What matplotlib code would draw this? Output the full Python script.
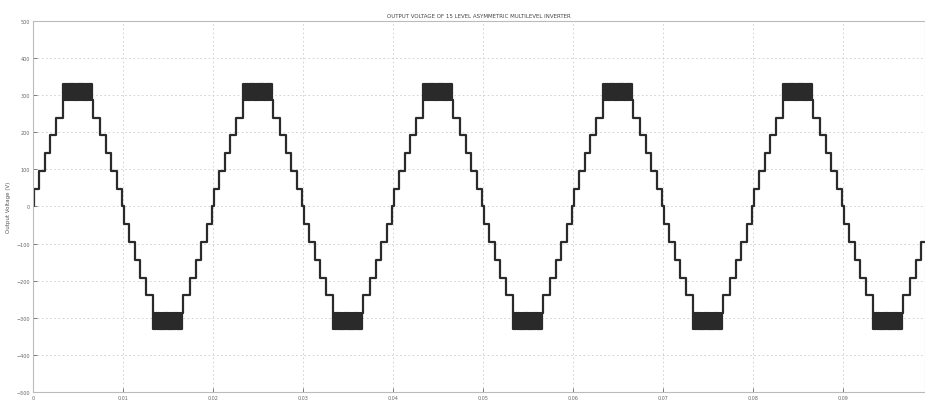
import numpy as np
import matplotlib
matplotlib.use('Agg')
import matplotlib.pyplot as plt

# staircase levels (V) and the times (s) they switch on in the first quarter
step_levels = [0, 48, 96, 144, 192, 240, 288]
step_times = [0.0, 0.0001, 0.0007, 0.0013, 0.0019, 0.0026, 0.0033]
top_level = 330
# pwm chatter between the two highest levels around the peak
pwm_times = [0.0033, 0.00345, 0.0035, 0.0037, 0.00375, 0.0039, 0.00395, 0.0041, 0.00415,
             0.0043, 0.00435, 0.0045, 0.00455, 0.0047, 0.00475, 0.0049, 0.00495,
             0.0051, 0.00515, 0.0053, 0.00535, 0.0055, 0.00555, 0.0057, 0.00575,
             0.0059, 0.00595, 0.0061, 0.00615, 0.0063, 0.00635, 0.0065, 0.0067]
period = 0.02
n_cycles = 5

x_ticks = [0, 0.01, 0.02, 0.03, 0.04, 0.05, 0.06, 0.07, 0.08, 0.09]
x_labels = ['0', '0.01', '0.02', '0.03', '0.04', '0.05', '0.06', '0.07', '0.08', '0.09']
y_ticks = [-500, -400, -300, -200, -100, 0, 100, 200, 300, 400, 500]

title = 'OUTPUT VOLTAGE OF 15 LEVEL ASYMMETRIC MULTILEVEL INVERTER'
ylabel = 'Output Voltage (V)'

# build one positive half cycle from the read-off switching points
ht, hv = [], []
for t, v in zip(step_times, step_levels):
    ht.append(t); hv.append(v)
for i, t in enumerate(pwm_times[:-1]):
    ht.append(t); hv.append(top_level if i % 2 == 0 else step_levels[-1])
ht.append(pwm_times[-1]); hv.append(step_levels[-1])
# falling side mirrors the rising side
for t, v in zip(reversed(step_times[1:]), reversed(step_levels[:-1])):
    ht.append(period / 2 - t); hv.append(v)

ht = np.array(ht)
hv = np.array(hv)
tt, vv = [], []
for c in range(n_cycles):
    tt.extend(c * period + ht); vv.extend(hv)
    tt.extend(c * period + period / 2 + ht); vv.extend(-hv)
tt.append(n_cycles * period); vv.append(0)

fig = plt.figure(figsize=(9.25, 4.1), dpi=100)
ax = fig.add_axes([0.0357, 0.042, 0.9643, 0.904])
ax.plot(tt, vv, color='#2a2a2a', lw=1.6, drawstyle='steps-post')

ax.set_xlim(0, 0.0991)
ax.set_ylim(-500, 500)
ax.set_xticks(x_ticks)
ax.set_xticklabels(x_labels)
ax.set_yticks(y_ticks)
ax.tick_params(direction='in', labelsize=3.5, length=3, width=0.6, colors='#666666', pad=2)
ax.grid(True, linestyle=(0, (2, 3)), color='#cccccc', linewidth=0.6)
for s in ax.spines.values():
    s.set_color('#bbbbbb')
    s.set_linewidth(0.8)
ax.set_title(title, fontsize=4, color='#444444', pad=3)
ax.set_ylabel(ylabel, fontsize=4, color='#555555', labelpad=4)

fig.savefig('out.png', dpi=100)
